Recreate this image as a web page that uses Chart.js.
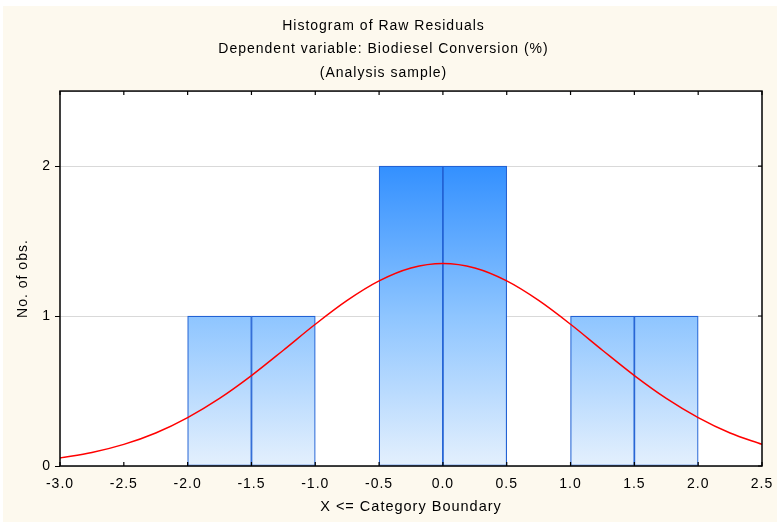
<!DOCTYPE html>
<html>
<head>
<meta charset="utf-8">
<script src="https://cdn.jsdelivr.net/npm/chart.js@4.4.1/dist/chart.umd.min.js"></script>
<style>
  html, body { margin: 0; padding: 0; background: #ffffff; }
  #wrap { width: 777px; height: 522px; }
</style>
</head>
<body>
<div id="wrap"><canvas id="hist"></canvas></div>
<script>
// bin centres (width 0.5) and counts
const binCenters = [-2.75, -2.25, -1.75, -1.25, -0.75, -0.25, 0.25, 0.75, 1.25, 1.75, 2.25];
const binCounts  = [0, 0, 1, 1, 0, 2, 2, 0, 1, 1, 0];

// expected normal curve, read at every 0.25
const curveX = [-3.0, -2.75, -2.5, -2.25, -2.0, -1.75, -1.5, -1.25, -1.0, -0.75, -0.5, -0.25,
                0.0, 0.25, 0.5, 0.75, 1.0, 1.25, 1.5, 1.75, 2.0, 2.25, 2.5];
const curveY = [0.054, 0.090, 0.144, 0.220, 0.323, 0.451, 0.603, 0.772, 0.945, 1.104, 1.234, 1.320,
                1.350, 1.320, 1.234, 1.104, 0.945, 0.772, 0.603, 0.451, 0.323, 0.220, 0.144];

const yTicks = [0, 1, 2];
const titleLines = ['Histogram of Raw Residuals', 'Dependent variable: Biodiesel Conversion (%)', '(Analysis sample)'];

const FONT = '"Liberation Sans", Arial, sans-serif';

// the original text is drawn slightly spaced out
function spaced(chart) { chart.ctx.letterSpacing = '1px'; }

const frame = {
  id: 'frame',
  beforeLayout: spaced,
  beforeDraw(chart) {
    spaced(chart);
    const ctx = chart.ctx, a = chart.chartArea;
    ctx.save();
    ctx.fillStyle = '#fdf9ee';
    ctx.fillRect(3, 6, chart.width - 3, chart.height - 6);
    ctx.fillStyle = '#ffffff';
    ctx.fillRect(a.left, a.top, a.right - a.left, a.bottom - a.top);
    ctx.restore();
  },
  afterDraw(chart) {
    const ctx = chart.ctx, a = chart.chartArea;
    const xs = chart.scales.x, ys = chart.scales.y;
    ctx.save();
    ctx.strokeStyle = '#000';
    ctx.lineWidth = 1.5;
    ctx.strokeRect(a.left, a.top, a.right - a.left, a.bottom - a.top);
    ctx.lineWidth = 1.2;
    ctx.beginPath();
    xs.ticks.forEach(t => {
      const px = xs.getPixelForValue(t.value);
      ctx.moveTo(px, a.bottom); ctx.lineTo(px, a.bottom - 4);
      ctx.moveTo(px, a.top); ctx.lineTo(px, a.top + 4);
    });
    ys.ticks.forEach(t => {
      const py = ys.getPixelForValue(t.value);
      ctx.moveTo(a.right, py); ctx.lineTo(a.right - 4, py);
    });
    ctx.stroke();
    ctx.restore();
  }
};

function barGradient(context) {
  const chart = context.chart;
  if (!chart.chartArea) return '#8ec5ff';
  const ys = chart.scales.y;
  const g = chart.ctx.createLinearGradient(0, ys.getPixelForValue(2), 0, ys.getPixelForValue(0));
  g.addColorStop(0, '#3390ff');
  g.addColorStop(0.5, '#8ec5ff');
  g.addColorStop(1, '#e4f0fd');
  return g;
}

new Chart(document.getElementById('hist'), {
  type: 'bar',
  data: {
    datasets: [
      {
        type: 'line',
        data: curveX.map((x, i) => ({ x: x, y: curveY[i] })),
        borderColor: '#ff0000',
        borderWidth: 1.5,
        pointRadius: 0,
        cubicInterpolationMode: 'monotone',
        fill: false
      },
      {
        type: 'bar',
        data: binCenters.map((x, i) => ({ x: x, y: binCounts[i] })),
        backgroundColor: barGradient,
        borderColor: '#2262d4',
        borderWidth: 1.2,
        borderSkipped: false,
        barPercentage: 1,
        categoryPercentage: 1
      }
    ]
  },
  options: {
    responsive: true,
    maintainAspectRatio: false,
    animation: false,
    events: [],
    layout: { padding: { left: 5, right: 15, top: 6, bottom: 4 } },
    plugins: {
      legend: { display: false },
      tooltip: { enabled: false },
      title: {
        display: true,
        text: titleLines,
        color: '#000',
        font: { family: FONT, size: 14, weight: 'normal', lineHeight: 1.68 },
        padding: { top: 8, bottom: 6.5 }
      }
    },
    scales: {
      x: {
        type: 'linear',
        min: -3,
        max: 2.5,
        offset: false,
        grid: { display: false, drawTicks: false },
        border: { display: false },
        afterFit(scale) {
          scale.height = 52;
          scale.paddingLeft = 0;
          scale.paddingRight = 0;
        },
        ticks: {
          stepSize: 0.5,
          padding: 10,
          color: '#000',
          font: { family: FONT, size: 14 },
          callback: v => v.toFixed(1),
          maxRotation: 0,
          autoSkip: false
        },
        title: {
          display: true,
          text: 'X <= Category Boundary',
          color: '#000',
          font: { family: FONT, size: 14.5 },
          padding: { top: 0, bottom: 2 }
        }
      },
      y: {
        min: 0,
        max: 2.5,
        afterBuildTicks(scale) { scale.ticks = yTicks.map(v => ({ value: v })); },
        afterFit(scale) { scale.width = 55; },
        grid: { color: '#d9d9d9', tickColor: '#000', tickLength: 5, lineWidth: 1 },
        border: { display: false },
        ticks: {
          padding: 4,
          color: '#000',
          font: { family: FONT, size: 14 }
        },
        title: {
          display: true,
          text: 'No. of obs.',
          color: '#000',
          font: { family: FONT, size: 14 },
          padding: { top: 10, bottom: 0 }
        }
      }
    }
  },
  plugins: [frame]
});
</script>
</body>
</html>
